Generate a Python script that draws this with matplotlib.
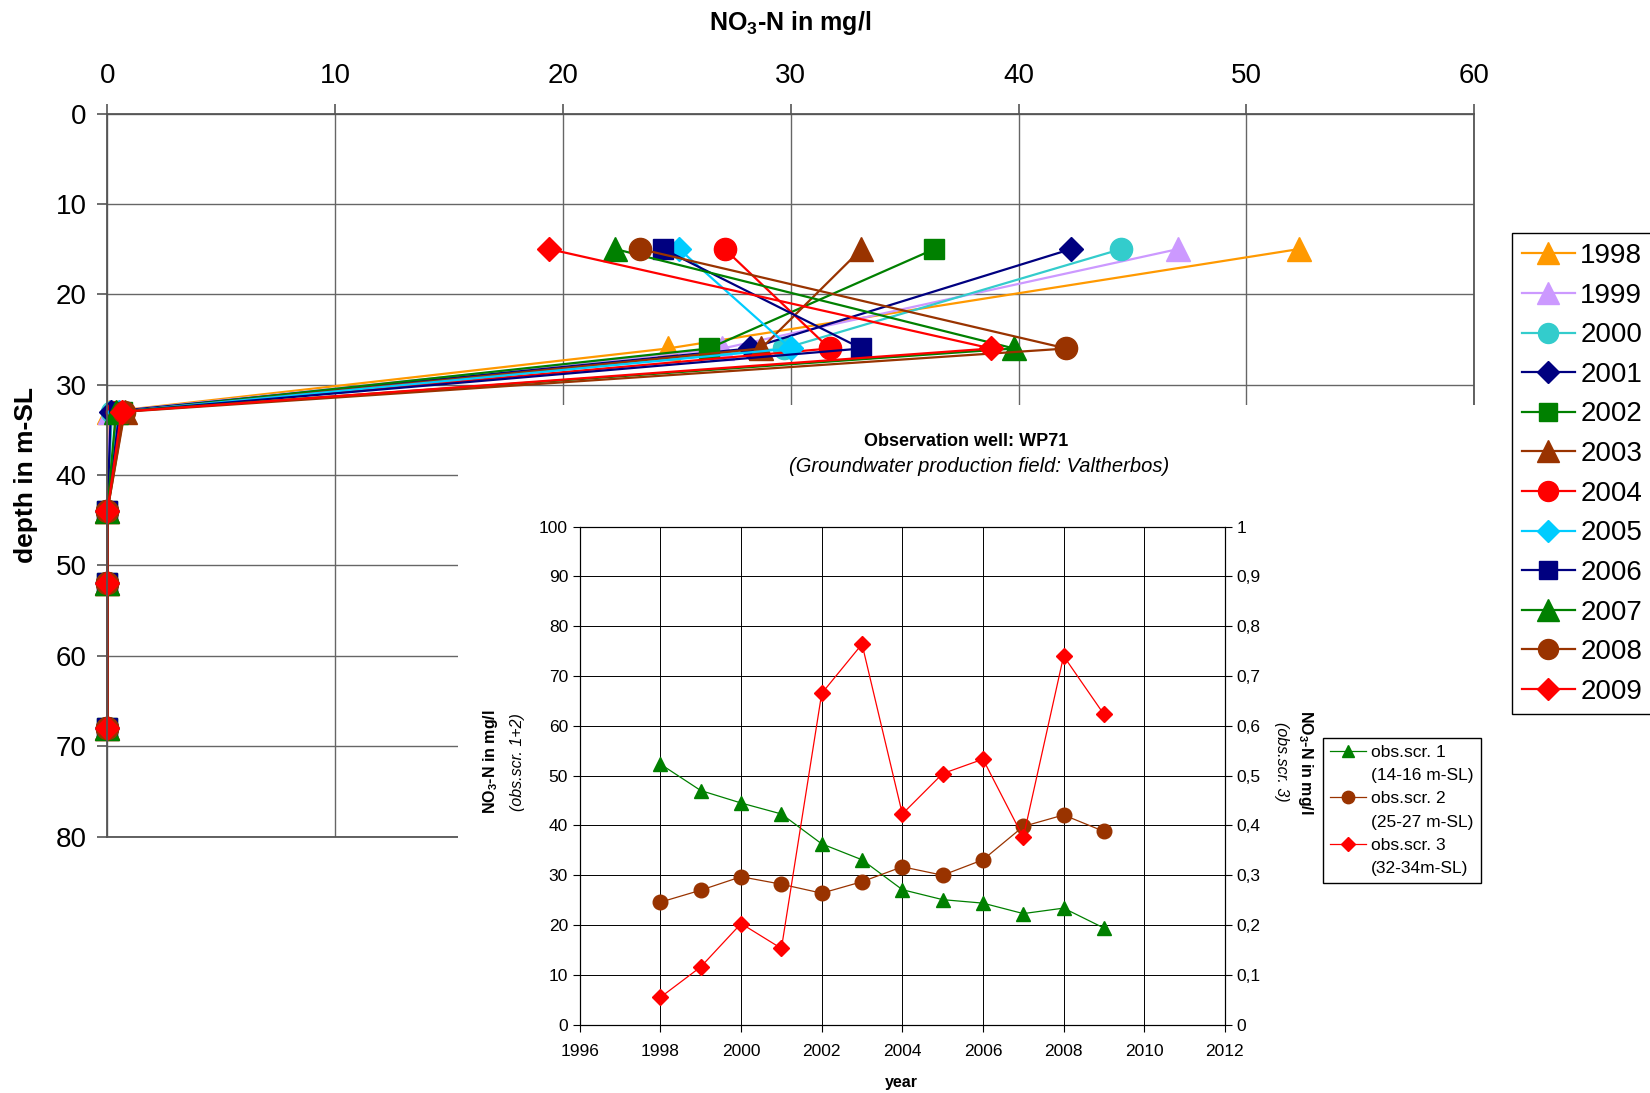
import matplotlib
matplotlib.use("Agg")
import matplotlib.pyplot as plt
from matplotlib.patches import Rectangle
from matplotlib.lines import Line2D
from matplotlib.ticker import FuncFormatter

plt.rcParams['font.family'] = ['Liberation Sans', 'DejaVu Sans']
plt.rcParams['mathtext.default'] = 'regular'

# data
years = [1998, 1999, 2000, 2001, 2002, 2003, 2004, 2005, 2006, 2007, 2008, 2009]
scr1 = [52.3, 47.0, 44.5, 42.3, 36.3, 33.1, 27.1, 25.1, 24.4, 22.3, 23.4, 19.4]
scr2 = [24.6, 27.0, 29.7, 28.2, 26.4, 28.7, 31.7, 30.0, 33.1, 39.8, 42.1, 38.8]
scr3 = [0.055, 0.116, 0.203, 0.153, 0.665, 0.764, 0.423, 0.504, 0.533, 0.376, 0.740, 0.623]
depths = [15, 26, 33, 44, 52, 68]
deep_values = [0.0, 0.0, 0.0]

year_colors = ['#FF9900', '#CC99FF', '#33CCCC', '#000080', '#008000', '#993300',
               '#FF0000', '#00CCFF', '#000080', '#008000', '#993300', '#FF0000']
year_markers = ['^', '^', 'o', 'D', 's', '^', 'o', 'D', 's', '^', 'o', 'D']
marker_sizes = {'^': 17, 'o': 16, 'D': 12, 's': 14}

W, H = 1568.0, 1040.0  # layout measured in these units

fig = plt.figure(figsize=(16.5, 10.93), dpi=100)

# ---- depth profile ----
ax = fig.add_axes([102 / W, 1 - 796 / H, 1299 / W, 688 / H])
handles = []
for i, yr in enumerate(years):
    vals = [scr1[i], scr2[i], scr3[i]] + deep_values
    m = year_markers[i]
    h, = ax.plot(vals, depths, color=year_colors[i], lw=1.6, marker=m,
                 ms=marker_sizes[m], mec=year_colors[i], mfc=year_colors[i],
                 label=str(yr), clip_on=False)
    handles.append(h)

ax.set_xlim(0, 60)
ax.set_ylim(80, 0)
ax.set_xticks(range(0, 61, 10))
ax.set_yticks(range(0, 81, 10))
ax.xaxis.tick_top()
ax.tick_params(axis='both', labelsize=20, direction='out', length=7,
               color='#555555', width=1.2)
ax.tick_params(axis='x', pad=11)
ax.tick_params(axis='y', pad=8)
ax.grid(True, color='#666666', lw=1)
ax.set_axisbelow(True)
for s in ax.spines.values():
    s.set_color('#555555')
    s.set_linewidth(1.3)

fig.text(751 / W, 1 - 22 / H, 'NO$_3$-N in mg/l', fontsize=18, fontweight='bold',
         ha='center', va='center')
fig.text(25 / W, 1 - 452 / H, 'depth in m-SL', fontsize=19, fontweight='bold',
         rotation=90, ha='center', va='center')

fig.legend(handles=handles, loc='upper left', bbox_to_anchor=(1437 / W, 1 - 222 / H),
           borderaxespad=0, fontsize=20, frameon=True, fancybox=False,
           edgecolor='black', framealpha=1, handlelength=1.9, handletextpad=0.2,
           labelspacing=0.49, borderpad=0.35, markerscale=0.9)

# white chart area of the inset covering the profile
fig.add_artist(Rectangle((435 / W, 0), (1420 - 435) / W, 1 - 385 / H,
                         transform=fig.transFigure, facecolor='white',
                         edgecolor='none', zorder=1))

# ---- time series inset ----
ax_in = fig.add_axes([551 / W, 1 - 975 / H, 613 / W, 474 / H])
ax_in.set_zorder(2)
ax2 = ax_in.twinx()
ax2.set_zorder(3)

l1, = ax_in.plot(years, scr1, color='#008000', lw=0.9, marker='^', ms=10.5,
                 label='obs.scr. 1')
l2, = ax_in.plot(years, scr2, color='#993300', lw=0.9, marker='o', ms=10.5,
                 label='obs.scr. 2')
l3, = ax2.plot(years, scr3, color='#FF0000', lw=0.9, marker='D', ms=8,
               label='obs.scr. 3')

ax_in.set_xlim(1996, 2012)
ax_in.set_ylim(0, 100)
ax_in.set_xticks(range(1996, 2013, 2))
ax_in.set_yticks(range(0, 101, 10))
ax2.set_ylim(0, 1)
ax2.set_yticks([i / 10 for i in range(11)])
ax2.yaxis.set_major_formatter(FuncFormatter(lambda v, p: ('%g' % round(v, 1)).replace('.', ',')))
ax_in.grid(True, color='black', lw=0.7)
ax_in.tick_params(labelsize=12.5, direction='out', length=5, width=0.8)
ax_in.tick_params(axis='x', pad=9)
ax2.tick_params(labelsize=12.5, direction='out', length=5, width=0.8)
for a in (ax_in, ax2):
    for s in a.spines.values():
        s.set_linewidth(0.8)
        s.set_color('black')

fig.text(918 / W, 1 - 420 / H, 'Observation well: WP71', fontsize=13,
         fontweight='bold', ha='center', va='center')
fig.text(930 / W, 1 - 444 / H, '(Groundwater production field: Valtherbos)',
         fontsize=14.5, style='italic', ha='center', va='center')
fig.text(857 / W, 1 - 1030 / H, 'year', fontsize=11.5, fontweight='bold',
         ha='center', va='center')
fig.text(466 / W, 1 - 725 / H, 'NO$_3$-N in mg/l', fontsize=11.5, fontweight='bold',
         rotation=90, ha='center', va='center')
fig.text(492 / W, 1 - 725 / H, '(obs.scr. 1+2)', fontsize=11.5, style='italic',
         rotation=90, ha='center', va='center')
fig.text(1241 / W, 1 - 725 / H, 'NO$_3$-N in mg/l', fontsize=11.5, fontweight='bold',
         rotation=270, ha='center', va='center')
fig.text(1218 / W, 1 - 725 / H, '(obs.scr. 3)', fontsize=11.5, style='italic',
         rotation=270, ha='center', va='center')

blank = Line2D([], [], linestyle='none')
ax2.legend(handles=[l1, blank, l2, blank, l3, blank],
           labels=['obs.scr. 1', '(14-16 m-SL)', 'obs.scr. 2', '(25-27 m-SL)',
                   'obs.scr. 3', '(32-34m-SL)'],
           loc='upper left', bbox_to_anchor=(1257 / W, 1 - 702 / H),
           bbox_transform=fig.transFigure, borderaxespad=0, fontsize=12.5,
           frameon=True, fancybox=False, edgecolor='black', framealpha=1,
           handlelength=2.1, handletextpad=0.3, labelspacing=0.47,
           borderpad=0.4, markerscale=0.85)

fig.savefig('out.png', dpi=100)
